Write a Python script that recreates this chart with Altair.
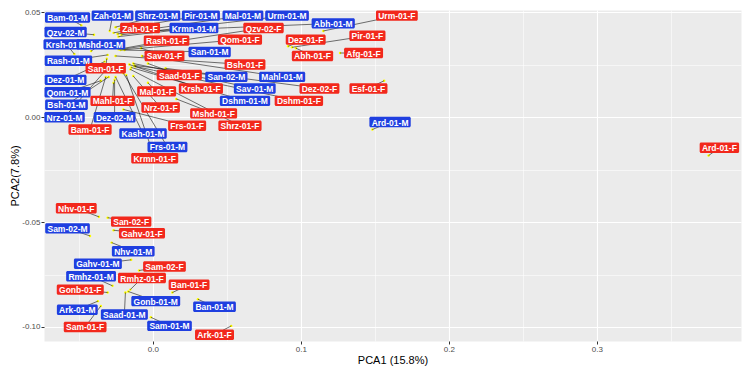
import altair as alt
import pandas as pd

# ---- data ----
labels = [
    "Bam-01-M", "Zah-01-M", "Shrz-01-M", "Pir-01-M", "Mal-01-M", "Urm-01-M",
    "Qzv-02-M", "Zah-01-F", "Krmn-01-M", "Qzv-02-F", "Abh-01-M", "Urm-01-F",
    "Krsh-01-M", "Mshd-01-M", "Rash-01-F", "Qom-01-F", "Dez-01-F", "Pir-01-F",
    "Abh-01-F", "Afg-01-F", "San-01-M", "Sav-01-F", "Rash-01-M", "Bsh-01-F",
    "San-01-F", "Saad-01-F", "San-02-M", "Mahl-01-M", "Dez-01-M", "Krsh-01-F",
    "Sav-01-M", "Dez-02-F", "Esf-01-F", "Qom-01-M", "Mal-01-F", "Dshm-01-M",
    "Dshm-01-F", "Bsh-01-M", "Mahl-01-F", "Nrz-01-F", "Mshd-01-F", "Nrz-01-M",
    "Dez-02-M", "Shrz-01-F", "Ard-01-M", "Bam-01-F", "Frs-01-F", "Kash-01-M",
    "Frs-01-M", "Krmn-01-F", "Ard-01-F",
    "Nhv-01-F", "San-02-F", "Sam-02-M", "Gahv-01-F", "Nhv-01-M", "Gahv-01-M",
    "Sam-02-F", "Rmhz-01-M", "Rmhz-01-F", "Ban-01-F", "Gonb-01-F", "Gonb-01-M",
    "Ban-01-M", "Ark-01-M", "Saad-01-M", "Sam-01-F", "Sam-01-M", "Ark-01-F",
]
pc1 = [
    -0.0483, -0.0291, -0.0252, -0.0225, -0.0238, -0.0212,
    -0.0397, -0.0265, -0.0232, -0.0205, -0.0199, 0.1152,
    -0.0530, -0.0417, -0.0232, -0.0219, 0.0914, 0.0940,
    0.0967, 0.1265, -0.0192, -0.0079, -0.0305, -0.0252,
    -0.0311, -0.0033, -0.0126, -0.0073, -0.0325, -0.0159,
    -0.0132, 0.0086, 0.1563, -0.0351, -0.0033, -0.0146,
    -0.0119, -0.0298, -0.0265, -0.0132, 0.0159, -0.0318,
    -0.0258, -0.0152, 0.1483, -0.0318, -0.0199, -0.0252,
    -0.0199, -0.0179, 0.3755,
    -0.0364, -0.0305, -0.0424, -0.0265, -0.0278, -0.0146,
    -0.0093, -0.0272, -0.0152, 0.0132, -0.0305, -0.0166,
    0.0305, -0.0371, -0.0185, -0.0351, -0.0013, 0.0530,
]
pc2 = [
    0.0438, 0.0411, 0.0429, 0.0420, 0.0397, 0.0393,
    0.0393, 0.0402, 0.0384, 0.0324, 0.0406, 0.0411,
    0.0301, 0.0315, 0.0324, 0.0320, 0.0338, 0.0333,
    0.0329, 0.0306, 0.0320, 0.0329, 0.0297, 0.0292,
    0.0279, 0.0256, 0.0247, 0.0292, 0.0265, 0.0251,
    0.0256, 0.0233, 0.0174, 0.0174, 0.0164, 0.0237,
    0.0242, 0.0192, 0.0164, 0.0196, 0.0087, 0.0224,
    0.0178, 0.0228, -0.0059, 0.0192, 0.0037, 0.0192,
    0.0210, 0.0201, -0.0183,
    -0.0475, -0.0479, -0.0566, -0.0539, -0.0598, -0.0680,
    -0.0731, -0.0804, -0.0822, -0.0836, -0.0836, -0.0831,
    -0.0868, -0.0877, -0.0836, -0.0900, -0.0954, -0.0995,
]
label_x = [
    -0.0576, -0.0272, 0.0033, 0.0325, 0.0609, 0.0907,
    -0.0589, -0.0086, 0.0278, 0.0748, 0.1219, 0.1649,
    -0.0583, -0.0351, 0.0093, 0.0589, 0.1033, 0.1450,
    0.1079, 0.1424, 0.0384, 0.0079, -0.0570, 0.0623,
    -0.0318, 0.0179, 0.0497, 0.0874, -0.0589, 0.0325,
    0.0689, 0.1126, 0.1457, -0.0576, 0.0026, 0.0623,
    0.0987, -0.0583, -0.0272, 0.0053, 0.0411, -0.0596,
    -0.0258, 0.0589, 0.1603, -0.0424, 0.0232, -0.0066,
    0.0099, 0.0013, 0.3828,
    -0.0517, -0.0146, -0.0576, -0.0073, -0.0132, -0.0371,
    0.0079, -0.0417, -0.0073, 0.0245, -0.0490, 0.0020,
    0.0417, -0.0510, -0.0192, -0.0457, 0.0113, 0.0417,
]
label_y = [
    0.0475, 0.0484, 0.0484, 0.0484, 0.0484, 0.0484,
    0.0406, 0.0425, 0.0425, 0.0425, 0.0447, 0.0484,
    0.0347, 0.0347, 0.0365, 0.0370, 0.0370, 0.0388,
    0.0292, 0.0306, 0.0311, 0.0292, 0.0269, 0.0251,
    0.0233, 0.0201, 0.0192, 0.0192, 0.0178, 0.0137,
    0.0137, 0.0137, 0.0137, 0.0119, 0.0123, 0.0078,
    0.0078, 0.0059, 0.0078, 0.0046, 0.0018, 0.0000,
    0.0000, -0.0041, -0.0023, -0.0059, -0.0041, -0.0078,
    -0.0142, -0.0196, -0.0146,
    -0.0434, -0.0498, -0.0530, -0.0553, -0.0639, -0.0699,
    -0.0712, -0.0758, -0.0767, -0.0799, -0.0822, -0.0877,
    -0.0904, -0.0918, -0.0941, -0.1000, -0.0995, -0.1037,
]
# labels whose boxes lie underneath a neighbouring label
behind = ["Krsh-01-M"]
x_ticks = [-0.05, 0.0, 0.05, 0.1, 0.15, 0.2, 0.25, 0.3, 0.35]
y_ticks = [-0.1, -0.075, -0.05, -0.025, 0.0, 0.025, 0.05]

# ---- layout ----
X_DOMAIN = [-0.0735, 0.3974]
Y_DOMAIN = [-0.1067, 0.0511]
PAD_L, PAD_R, PAD_T, PAD_B = 36, 1, 2, 25
W, H = 734 - PAD_L - PAD_R, 358 - PAD_T - PAD_B
FONT = "Liberation Sans"
LABEL_SIZE = 8.5

# Arial/Liberation Sans Bold advance widths (per 1000 em)
_w = {
    "A": 722, "B": 722, "D": 722, "E": 667, "F": 611, "G": 778, "K": 722,
    "M": 833, "N": 722, "P": 667, "Q": 778, "R": 722, "S": 667, "U": 722,
    "Z": 611, "a": 556, "b": 611, "d": 611, "e": 556, "f": 333, "g": 611,
    "h": 611, "i": 278, "k": 556, "l": 278, "m": 889, "n": 611, "o": 611,
    "r": 389, "s": 556, "v": 556, "z": 500, "-": 333,
}


def text_px(s):
    return sum(_w.get(c, 556) for c in s) * LABEL_SIZE / 1000.0


sx = W / (X_DOMAIN[1] - X_DOMAIN[0])
sy = H / (Y_DOMAIN[1] - Y_DOMAIN[0])

df = pd.DataFrame({
    "label": labels, "pc1": pc1, "pc2": pc2, "lx": label_x, "ly": label_y,
})
df["sex"] = df["label"].str[-1]
df["back"] = df["label"].isin(behind)
half_w = df["label"].map(lambda s: (text_px(s) + 4.5) / 2.0 / sx)
half_h = 5.2 / sy
df["bx1"] = df["lx"] - half_w
df["bx2"] = df["lx"] + half_w
df["by1"] = df["ly"] - half_h
df["by2"] = df["ly"] + half_h

major_x = "abs(datum.value*10 - round(datum.value*10)) < 0.001"
major_y = "abs(datum.value*20 - round(datum.value*20)) < 0.001"

common_axis = dict(
    grid=True, gridColor="white", domain=False, tickColor="#333333",
    tickSize=3, labelPadding=1, labelColor="#4D4D4D", labelFontSize=8,
    labelFont=FONT, titleFont=FONT, titleFontSize=11,
    titleFontWeight="normal", titleColor="black", titlePadding=1,
    labelFlush=False,
)
x_axis = alt.Axis(
    values=x_ticks, title="PCA1 (15.8%)",
    gridWidth={"condition": {"test": major_x, "value": 1.1}, "value": 0.55},
    tickOpacity={"condition": {"test": major_x, "value": 1}, "value": 0},
    labelExpr=f"({major_x}) ? replace(format(datum.value, '.1f'), '\u2212', '-') : ''",
    **common_axis,
)
y_axis = alt.Axis(
    values=y_ticks, title="PCA2(7.8%)",
    gridWidth={"condition": {"test": major_y, "value": 1.1}, "value": 0.55},
    tickOpacity={"condition": {"test": major_y, "value": 1}, "value": 0},
    labelExpr=f"({major_y}) ? replace(format(datum.value, '.2f'), '\u2212', '-') : ''",
    **common_axis,
)
xs = alt.Scale(domain=X_DOMAIN, nice=False, zero=False)
ys = alt.Scale(domain=Y_DOMAIN, nice=False, zero=False)
color = alt.Color("sex:N", scale=alt.Scale(domain=["F", "M"], range=["#F2281C", "#1F3FE0"]), legend=None)

base = alt.Chart(df)

points = base.mark_circle(size=6, color="#FFFF00", opacity=1).encode(
    x=alt.X("pc1:Q", scale=xs, axis=x_axis),
    y=alt.Y("pc2:Q", scale=ys, axis=y_axis),
)
segments = base.mark_rule(color="#000000", strokeWidth=0.55).encode(
    x=alt.X("pc1:Q", scale=xs, axis=x_axis),
    y=alt.Y("pc2:Q", scale=ys, axis=y_axis),
    x2="lx:Q", y2="ly:Q",
)


def box_layer(sel):
    return base.transform_filter(sel).mark_rect(cornerRadius=1.5).encode(
        x=alt.X("bx1:Q", scale=xs, axis=x_axis),
        x2="bx2:Q",
        y=alt.Y("by1:Q", scale=ys, axis=y_axis),
        y2="by2:Q",
        color=color,
    )


def text_layer(sel):
    return base.transform_filter(sel).mark_text(
        font=FONT, fontSize=LABEL_SIZE, fontWeight="bold", color="white",
        align="center", baseline="middle", dy=0.5,
    ).encode(
        x=alt.X("lx:Q", scale=xs, axis=x_axis),
        y=alt.Y("ly:Q", scale=ys, axis=y_axis),
        text="label:N",
    )


back_sel = "datum.back"
front_sel = "!datum.back"

chart = alt.layer(
    points, segments,
    box_layer(back_sel), text_layer(back_sel),
    box_layer(front_sel), text_layer(front_sel),
).properties(
    width=W, height=H,
    autosize=alt.AutoSizeParams(type="none"),
    padding={"left": PAD_L, "top": PAD_T, "right": PAD_R, "bottom": PAD_B},
    background="white",
).configure_view(fill="#EBEBEB", strokeOpacity=0)

chart.save("out.html", embed_options={"renderer": "svg", "actions": False})
